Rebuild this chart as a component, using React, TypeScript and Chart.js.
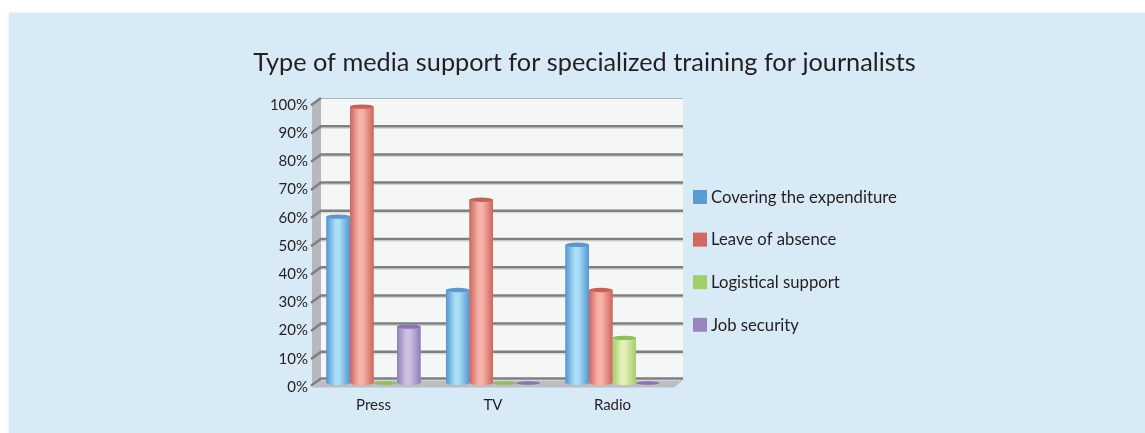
import React, { useEffect, useRef } from "react";
import { Chart, registerables } from "chart.js";

Chart.register(...registerables);

const TITLE = "Type of media support for specialized training for journalists";
const categories = ["Press", "TV", "Radio"];
const seriesNames = ["Covering the expenditure", "Leave of absence", "Logistical support", "Job security"];
const coveringExpenditure = [59, 33, 49];
const leaveOfAbsence = [98, 65, 33];
const logisticalSupport = [0, 0, 16];
const jobSecurity = [20, 0, 0];
const yTicks = [0, 10, 20, 30, 40, 50, 60, 70, 80, 90, 100];

const FONT = "Lato, 'Open Sans', sans-serif";
const TEXT = "#231f20";

const legendColors = ["#5b9bd5", "#cf6961", "#a3cf6b", "#9b85c0"];
const cylColors = [
  { edge: "#5496d2", light: "#a8def6", cap: "#5f97cb" },
  { edge: "#cd665e", light: "#f6b2a7", cap: "#c2625a" },
  { edge: "#a4cc6c", light: "#e2efb8", cap: "#90bd5e" },
  { edge: "#927db8", light: "#ccc2e0", cap: "#8a73b0" },
];

const threeD = {
  id: "threeD",
  beforeDatasetsDraw(chart: any) {
    const ctx = chart.ctx;
    const y = chart.scales.y;
    const ca = chart.chartArea;
    const mid = (v: number) => y.getPixelForValue(v);
    const back = (v: number) => mid(v) - 3;
    const front = (v: number) => mid(v) + 3.5;
    const Lx = ca.left - 1.75;
    const bLx = ca.left + 7.25;
    const bRx = ca.right + 10.75;
    const fRx = ca.right + 1.75;
    ctx.save();
    ctx.fillStyle = "#f5f6f6";
    ctx.fillRect(bLx, back(100), bRx - bLx, back(0) - back(100));
    ctx.strokeStyle = "#aab5be";
    ctx.lineWidth = 1;
    ctx.beginPath();
    ctx.moveTo(bLx, back(100) + 0.5);
    ctx.lineTo(bRx, back(100) + 0.5);
    ctx.stroke();
    ctx.fillStyle = "#b6b8bb";
    ctx.beginPath();
    ctx.moveTo(Lx, front(100));
    ctx.lineTo(bLx, back(100));
    ctx.lineTo(bLx, back(0));
    ctx.lineTo(Lx, front(0));
    ctx.closePath();
    ctx.fill();
    ctx.fillStyle = "#bdbec2";
    ctx.beginPath();
    ctx.moveTo(Lx, front(0) + 1);
    ctx.lineTo(fRx, front(0) + 1);
    ctx.lineTo(bRx, back(0));
    ctx.lineTo(bLx, back(0));
    ctx.closePath();
    ctx.fill();
    for (const v of yTicks) {
      const by = v === 0 ? back(0) - 1.5 : back(v);
      const fy = v === 0 ? front(0) - 1.5 : front(v);
      if (v < 100) {
        ctx.strokeStyle = "#cfd0d1";
        ctx.lineWidth = 1;
        ctx.beginPath();
        ctx.moveTo(bLx, by + 2);
        ctx.lineTo(bRx, by + 2);
        ctx.stroke();
      }
      ctx.strokeStyle = "#7e7f81";
      ctx.lineWidth = 2.5;
      ctx.beginPath();
      ctx.moveTo(Lx - 1, fy + 0.8);
      ctx.lineTo(bLx, by);
      if (v < 100) ctx.lineTo(bRx, by);
      ctx.stroke();
    }
    ctx.restore();
  },
  afterDatasetsDraw(chart: any) {
    const ctx = chart.ctx;
    chart.data.datasets.forEach((_ds: any, i: number) => {
      const meta = chart.getDatasetMeta(i);
      const c = cylColors[i];
      meta.data.forEach((bar: any) => {
        const { x, y, base, width } = bar.getProps(["x", "y", "base", "width"], true);
        const l = x - width / 2;
        const rx = width / 2;
        const ry = 2.2;
        ctx.save();
        if (Math.abs(base - y) < 0.5) {
          ctx.fillStyle = c.cap;
          ctx.beginPath();
          ctx.ellipse(x, base, rx, 1.8, 0, 0, Math.PI * 2);
          ctx.fill();
          ctx.restore();
          return;
        }
        const g = ctx.createLinearGradient(l, 0, l + width, 0);
        g.addColorStop(0, c.edge);
        g.addColorStop(0.38, c.light);
        g.addColorStop(0.55, c.light);
        g.addColorStop(1, c.edge);
        ctx.fillStyle = g;
        ctx.fillRect(l, y, width, base - y);
        ctx.beginPath();
        ctx.ellipse(x, base, rx, ry, 0, 0, Math.PI);
        ctx.fill();
        ctx.fillStyle = c.cap;
        ctx.beginPath();
        ctx.ellipse(x, y, rx, ry, 0, 0, Math.PI * 2);
        ctx.fill();
        ctx.restore();
      });
    });
  },
  afterDraw(chart: any) {
    const ctx = chart.ctx;
    ctx.save();
    ctx.font = `24px ${FONT}`;
    const w = ctx.measureText(TITLE).width;
    const size = (24 * 663) / w;
    ctx.font = `${size.toFixed(2)}px ${FONT}`;
    ctx.fillStyle = TEXT;
    ctx.textAlign = "center";
    ctx.textBaseline = "alphabetic";
    ctx.fillText(TITLE, 584.5, 71);
    ctx.font = `16.7px ${FONT}`;
    ctx.textAlign = "left";
    ctx.textBaseline = "middle";
    chart.data.datasets.forEach((ds: any, i: number) => {
      const cy = 197 + i * 42.6;
      ctx.fillStyle = legendColors[i];
      ctx.fillRect(693, cy - 7, 14, 14);
      ctx.fillStyle = TEXT;
      ctx.fillText(ds.label, 711, cy + 0.5);
    });
    ctx.restore();
  },
};

export default function App() {
  const ref = useRef<HTMLCanvasElement>(null);
  useEffect(() => {
    if (!ref.current) return;
    const seriesData = [coveringExpenditure, leaveOfAbsence, logisticalSupport, jobSecurity];
    const chart = new Chart(ref.current, {
      type: "bar",
      data: {
        labels: categories,
        datasets: seriesNames.map((name, i) => ({
          label: name,
          data: seriesData[i],
          backgroundColor: legendColors[i],
          borderWidth: 0,
          categoryPercentage: 0.787,
          barPercentage: 1,
        })),
      },
      options: {
        responsive: false,
        animation: false,
        devicePixelRatio: 1,
        layout: { padding: { left: 0, top: 101, right: 472.75, bottom: 10 } },
        plugins: { legend: { display: false }, title: { display: false }, tooltip: { enabled: false } },
        scales: {
          x: {
            grid: { display: false, drawTicks: false },
            border: { display: false },
            ticks: { font: { family: FONT, size: 15 }, color: TEXT, padding: 13 },
            afterFit: (s: any) => { s.height = 40; },
          },
          y: {
            min: 0,
            max: 100,
            grid: { display: false, drawTicks: false },
            border: { display: false },
            ticks: {
              stepSize: 10,
              font: { family: FONT, size: 15 },
              color: TEXT,
              padding: 5.75,
              labelOffset: 4,
              callback: (v: any) => v + "%",
            },
            afterFit: (s: any) => { s.width = 313.75; },
          },
        },
      },
      plugins: [threeD],
    });
    return () => chart.destroy();
  }, []);
  return (
    <div style={{ position: "fixed", left: 0, top: 0, width: 1145, height: 433, background: "#ffffff", overflow: "hidden" }}>
      <div style={{ position: "absolute", left: 9, top: 13, width: 1136, height: 420, background: "#d9eaf7", boxShadow: "0 0 3px rgba(0,0,0,0.12)" }} />
      <canvas ref={ref} width={1145} height={433} style={{ position: "absolute", left: 0, top: 0, width: 1145, height: 433 }} />
    </div>
  );
}
